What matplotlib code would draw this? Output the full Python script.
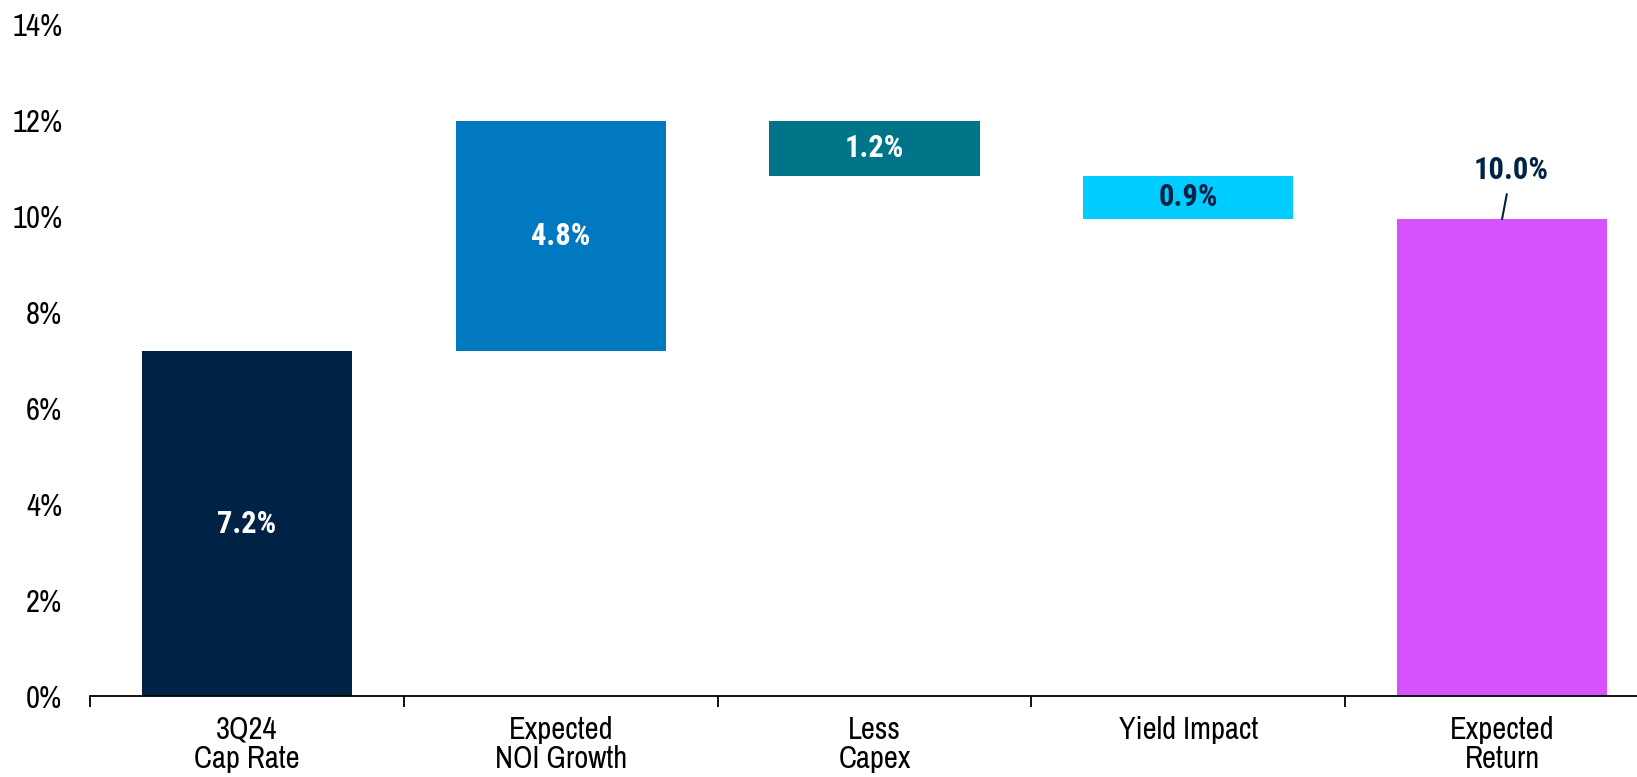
import matplotlib
matplotlib.use("Agg")
import matplotlib.pyplot as plt

# --- DATA ---
categorias = ["3Q24\nCap Rate", "Expected\nNOI Growth", "Less\nCapex", "Yield Impact", "Expected\nReturn"]
inicio = [0.0, 7.2, 12.0, 10.85, 0.0]
fim = [7.2, 12.0, 10.85, 9.95, 9.95]
rotulos = ["7.2%", "4.8%", "1.2%", "0.9%", "10.0%"]
cores = ["#002244", "#0079C1", "#00758A", "#00CCFF", "#D652FC"]
cores_rotulo = ["white", "white", "white", "#002244", "#002244"]
yticks = [0, 2, 4, 6, 8, 10, 12, 14]

plt.rcParams["font.family"] = ["Archivo Narrow", "Liberation Sans", "DejaVu Sans"]
fonte_negrito = ["Roboto Condensed", "Fira Sans Condensed", "Archivo Narrow", "Liberation Sans"]

fig = plt.figure(figsize=(16.37, 7.77), dpi=100)
ax = fig.add_axes([0.055, 0.104, 0.945, 0.864])

x = list(range(len(categorias)))
base = [min(a, b) for a, b in zip(inicio, fim)]
altura = [abs(b - a) for a, b in zip(inicio, fim)]
ax.bar(x, altura, bottom=base, width=0.67, color=cores, zorder=2)

for i in range(len(categorias) - 1):
    ax.text(x[i], base[i] + altura[i] / 2, rotulos[i], ha="center", va="center",
            color=cores_rotulo[i], fontsize=22, fontweight="bold", family=fonte_negrito)

# total label with leader line
ax.annotate(rotulos[-1], xy=(x[-1], fim[-1]), xytext=(x[-1] + 0.03, fim[-1] + 0.72),
            ha="center", va="bottom", color=cores_rotulo[-1], fontsize=22, fontweight="bold",
            family=fonte_negrito,
            arrowprops=dict(arrowstyle="-", color="#002244", lw=1.5, shrinkA=5, shrinkB=0))

ax.set_ylim(0, 14)
ax.set_xlim(-0.5, 4.43)
ax.set_yticks(yticks)
ax.set_yticklabels([f"{v}%" for v in yticks])
ax.set_xticks(x)
ax.set_xticklabels(categorias, linespacing=1.05)
ax.set_xticks([i - 0.5 for i in x], minor=True)
ax.tick_params(axis="x", which="major", length=0, pad=14, labelsize=22)
ax.tick_params(axis="x", which="minor", length=8, width=1.3, direction="out")
ax.tick_params(axis="y", length=0, pad=20, labelsize=22)

for s in ["top", "right", "left"]:
    ax.spines[s].set_visible(False)
ax.spines["bottom"].set_linewidth(1.3)

fig.savefig("out.png", dpi=100)
